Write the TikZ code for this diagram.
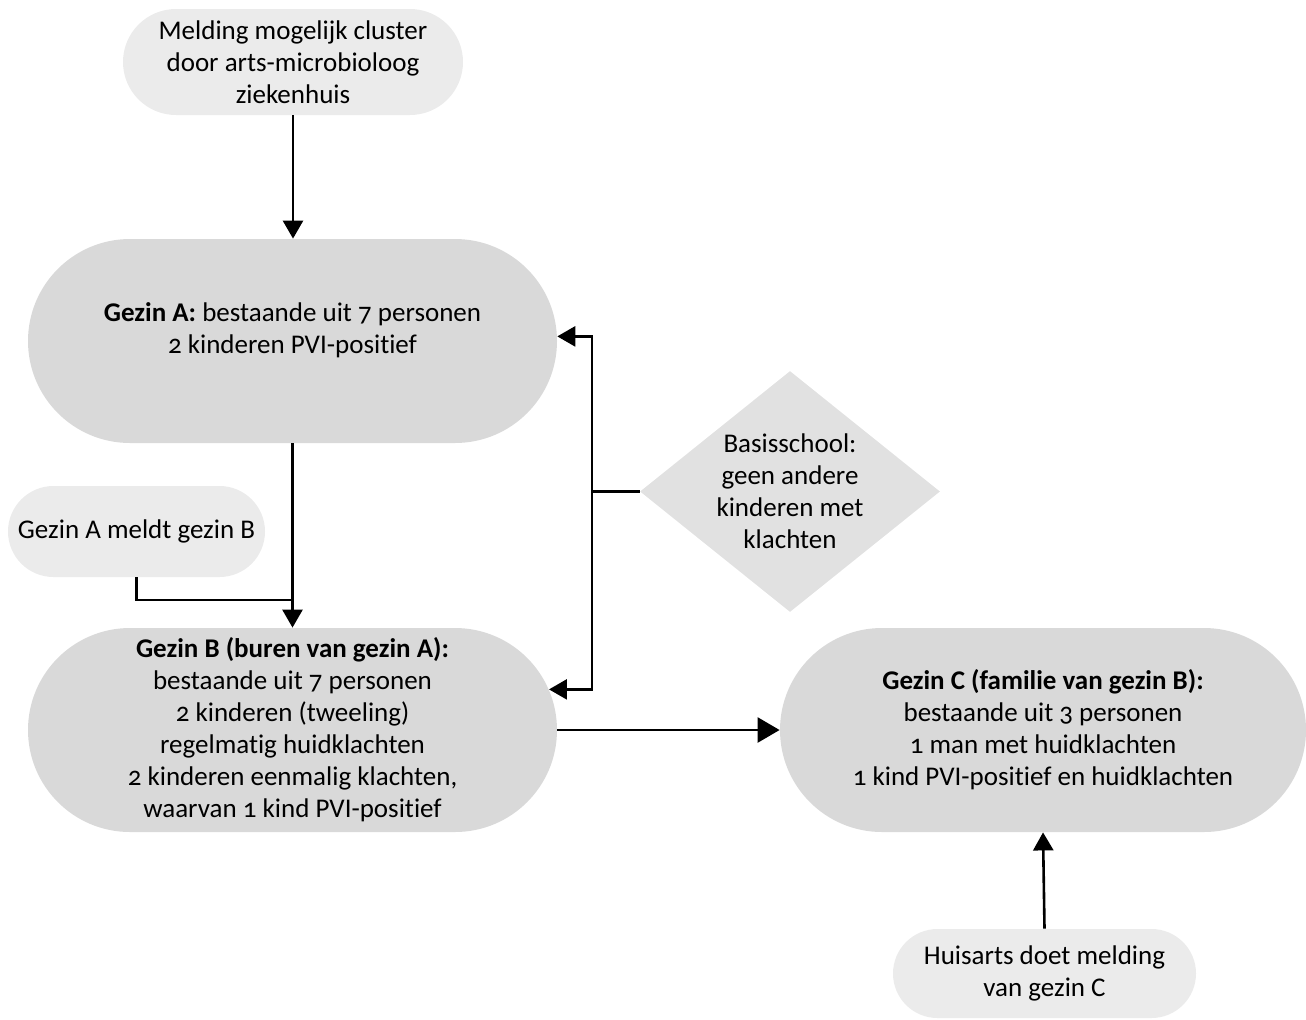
\documentclass[tikz,border=0pt]{standalone}
\usepackage{fontspec}
\setmainfont{Carlito}[Numbers=OldStyle, Ligatures={NoCommon}]
\usetikzlibrary{arrows.meta,shapes.misc,shapes.geometric,calc}
\definecolor{boxlight}{HTML}{EBEBEB}
\definecolor{boxmid}{HTML}{D9D9D9}
\definecolor{boxdia}{HTML}{E1E1E1}
\begin{document}
\begin{tikzpicture}[x=0.5pt,y=-0.5pt,
  txt/.style={align=center, inner sep=0pt, font=\fontsize{13.5}{16}\selectfont},
  pill/.style={rounded rectangle, inner sep=0pt, draw=none, txt},
  lightpill/.style={pill, fill=boxlight},
  midpill/.style={pill, fill=boxmid},
  dia/.style={diamond, inner sep=0pt, fill=boxdia, minimum width=150pt, minimum height=120.5pt},
  ln/.style={line width=1.3pt, black},
  arr/.style={ln, -{Triangle[length=9pt,width=10pt]}},
  bigarr/.style={ln, -{Triangle[length=11pt,width=12.5pt]}}
]
\useasboundingbox (0,0) rectangle (1306,1019);

\node[lightpill, minimum width=170pt, minimum height=53pt] (T) at (293,62)
  {Melding mogelijk cluster\\door arts-microbioloog\\ziekenhuis};
\node[midpill, minimum width=264.5pt, minimum height=102pt] (A) at (292.5,341) {};
\node[txt] (Atext) at (292.5,330)
  {\textbf{Gezin A:} bestaande uit 7 personen\\2 kinderen PVI-positief};
\node[lightpill, minimum width=128.5pt, minimum height=45.5pt] (M) at (136.5,531.5)
  {Gezin A meldt gezin B};
\node[midpill, minimum width=264.5pt, minimum height=102pt] (B) at (292.5,730)
  {\textbf{Gezin B (buren van gezin A):}\\bestaande uit 7 personen\\2 kinderen (tweeling)\\regelmatig huidklachten\\2 kinderen eenmalig klachten,\\waarvan 1 kind PVI-positief};
\node[midpill, minimum width=263pt, minimum height=102pt] (C) at (1043,730)
  {\textbf{Gezin C (familie van gezin B):}\\bestaande uit 3 personen\\1 man met huidklachten\\1 kind PVI-positief en huidklachten};
\node[lightpill, minimum width=151.5pt, minimum height=44.5pt] (H) at (1044.5,973.5)
  {Huisarts doet melding\\van gezin C};
\node[dia] (D) at (790,491.5) {};
\node[txt] (Dtext) at (790,491.5) {Basisschool:\\geen andere\\kinderen met\\klachten};

\coordinate (K) at (292.5,600);
\coordinate (J) at (592,491.5);

\draw[arr] (T.south) -- (T.south |- A.north);
\draw[arr] (A.south) -- (B.north);
\draw[ln] (M.south) |- (K);
\draw[ln] (D.west) -- (J);
\draw[arr] (J) |- (A.1);
\draw[arr] (J) |- (B.9.35);
\draw[bigarr] (B.east) -- (C.west);
\draw[arr] (H.north) -- (C.south);
\end{tikzpicture}
\end{document}
